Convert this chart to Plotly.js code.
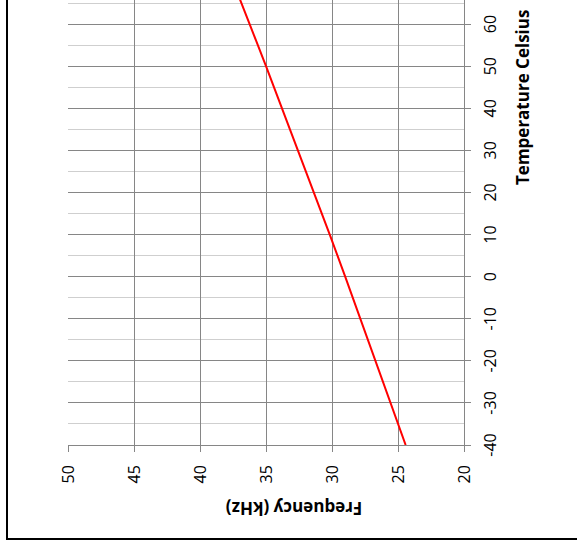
<!DOCTYPE html>
<html>
<head>
<meta charset="utf-8">
<script src="https://cdn.plot.ly/plotly-3.0.1.min.js"></script>
<style>
html, body { margin: 0; padding: 0; background: #fff; overflow: hidden; width: 577px; height: 548px; }
#wrap { position: absolute; left: 0; top: 0; width: 620px; height: 600px;
        transform-origin: 0 0; transform: translate(7px, 539px) rotate(-90deg); }
#plot { position: absolute; left: 0; top: 0; width: 620px; height: 600px; }
#border { position: absolute; left: -1px; top: -1px; width: 622px; height: 602px;
          border: 2px solid #000; box-sizing: border-box; pointer-events: none; }
</style>
</head>
<body>
<div id="wrap"><div id="plot"></div><div id="border"></div></div>
<script>
// Data
const temperatureC = [-40, -30, -20, -10, 0, 10, 20, 30, 40, 50, 60, 70];
const frequencyKHz = [24.42, 25.55, 26.68, 27.84, 29.0, 30.17, 31.37, 32.57, 33.78, 35.0, 36.24, 37.49];
const tempTicks = [-40, -30, -20, -10, 0, 10, 20, 30, 40, 50, 60];
const tempTickLabels = ['-40', '-30', '-20', '-10', '0', '10', '20', '30', '40', '50', '60'];
const freqTicks = [20, 25, 30, 35, 40, 45, 50];
const freqTickLabels = ['20', '25', '30', '35', '40', '45', '50'];
const xTitle = 'Temperature Celsius';
const yTitle = 'Frequency (kHz)';

const majorGrid = '#868686';
const minorGrid = '#cfcfcf';
const font = '"Open Sans", Lato, sans-serif';

const trace = {
  x: temperatureC, y: frequencyKHz, type: 'scatter', mode: 'lines',
  line: { color: '#ff0000', width: 2 }, hoverinfo: 'skip'
};

const layout = {
  width: 620, height: 600,
  margin: { l: 94, r: 63, t: 61, b: 143 },
  paper_bgcolor: '#ffffff', plot_bgcolor: '#ffffff',
  showlegend: false,
  font: { family: font, size: 16, color: '#000' },
  xaxis: {
    range: [-40, 70], tickmode: 'array', tickvals: tempTicks, ticktext: tempTickLabels,
    showgrid: true, gridcolor: majorGrid, gridwidth: 1,
    minor: { dtick: 5, tick0: 0, showgrid: true, gridcolor: minorGrid, gridwidth: 1, ticks: '' },
    showline: true, linecolor: majorGrid, linewidth: 1,
    ticks: 'outside', ticklen: 6, tickcolor: majorGrid, tickwidth: 1,
    ticklabelstandoff: 6,
    zeroline: false, tickfont: { family: font, size: 16, color: '#000' }
  },
  yaxis: {
    range: [20, 50], tickmode: 'array', tickvals: freqTicks, ticktext: freqTickLabels,
    showgrid: true, gridcolor: majorGrid, gridwidth: 1,
    showline: true, linecolor: majorGrid, linewidth: 1,
    ticks: 'outside', ticklen: 6, tickcolor: majorGrid, tickwidth: 1,
    ticklabelstandoff: 10,
    zeroline: false, tickfont: { family: font, size: 16, color: '#000' }
  },
  annotations: [
    { text: '<b>' + xTitle + '</b>', xref: 'paper', yref: 'paper', x: 0.751, y: -0.148,
      xanchor: 'center', yanchor: 'middle', showarrow: false,
      font: { family: font, size: 17, color: '#000' } },
    { text: '<b>' + yTitle + '</b>', xref: 'paper', yref: 'paper', x: -0.137, y: 0.43,
      xanchor: 'center', yanchor: 'middle', showarrow: false, textangle: -90,
      font: { family: font, size: 17, color: '#000' } }
  ]
};

Plotly.newPlot('plot', [trace], layout, { staticPlot: true, displayModeBar: false });
</script>
</body>
</html>
